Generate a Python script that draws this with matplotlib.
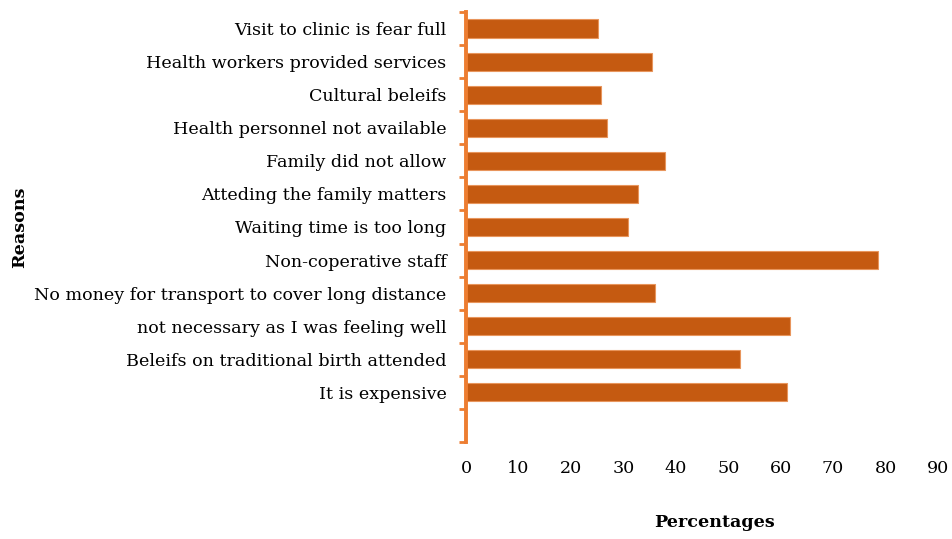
import matplotlib.pyplot as plt
import matplotlib
import numpy as np

matplotlib.rcParams['font.family'] = ['DejaVu Serif']

reasons = [
    'Visit to clinic is fear full',
    'Health workers provided services',
    'Cultural beleifs',
    'Health personnel not available',
    'Family did not allow',
    'Atteding the family matters',
    'Waiting time is too long',
    'Non-coperative staff',
    'No money for transport to cover long distance',
    'not necessary as I was feeling well',
    'Beleifs on traditional birth attended',
    'It is expensive',
]
percentages = [25.1, 35.5, 25.7, 26.9, 38.0, 32.8, 30.9, 78.5, 36.1, 61.8, 52.2, 61.2]
x_ticks = [0, 10, 20, 30, 40, 50, 60, 70, 80, 90]

BAR = '#C55A11'
AXIS = '#ED7D31'

fig = plt.figure(figsize=(9.52, 5.39), dpi=100)
ax = fig.add_axes([0.4895, 0.180, 0.4958, 0.7977])

y = np.arange(len(reasons))
ax.barh(y, percentages, height=0.55, color=BAR, edgecolor='#E8955C', linewidth=0.8)

ax.set_xlim(0, 90)
ax.set_ylim(len(reasons) + 0.5, -0.5)

# category labels at bar centres, tick marks on slot boundaries
ax.set_yticks(y)
ax.set_yticklabels(reasons, fontsize=12.6)
ax.set_yticks(np.arange(-0.5, len(reasons) + 1), minor=True)
ax.tick_params(axis='y', which='major', length=0, pad=14)
ax.tick_params(axis='y', which='minor', length=5, width=2, color=AXIS, direction='out')

ax.set_xticks(x_ticks)
ax.tick_params(axis='x', length=0, pad=13, labelsize=12.6)

for side in ['top', 'right', 'bottom']:
    ax.spines[side].set_visible(False)
ax.spines['left'].set_color(AXIS)
ax.spines['left'].set_linewidth(2.8)

ax.set_ylabel('Reasons', fontsize=12.6, fontweight='bold')
ax.yaxis.set_label_coords(-0.928, 0.5)
ax.set_xlabel('Percentages', fontsize=12.6, fontweight='bold')
ax.xaxis.set_label_coords(0.527, -0.168)

plt.savefig('out.png', dpi=100, facecolor='white')
